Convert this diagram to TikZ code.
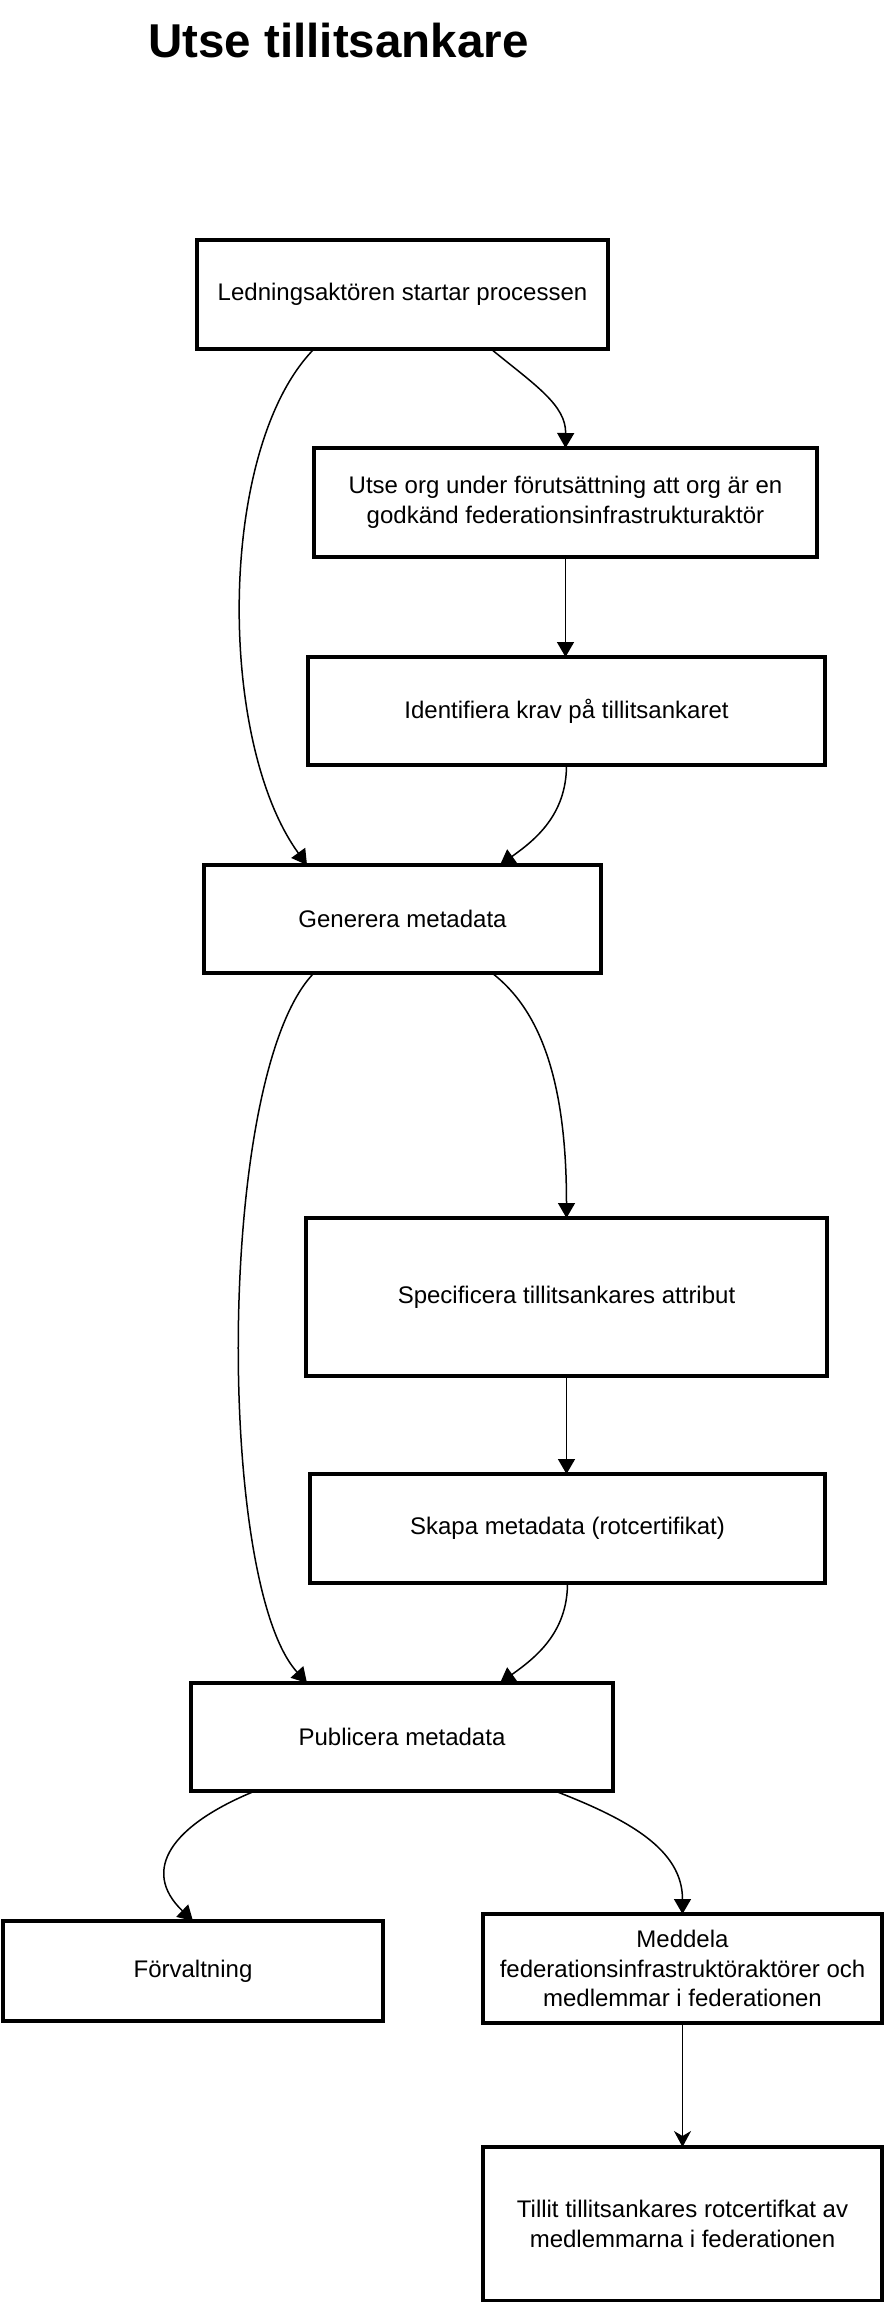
\documentclass[tikz,border=0pt]{standalone}
\usepackage{fontspec}
\setmainfont{Liberation Sans}
\usetikzlibrary{arrows.meta}
\begin{document}
\begin{tikzpicture}[x=1pt,y=-1pt,
  box/.style={draw=black,line width=3.5pt,rectangle,inner sep=0pt,outer sep=0pt,
    align=center,font=\fontsize{24}{29.5}\selectfont},
  conn/.style={draw=black,line width=1.5pt,-{Triangle[width=17pt,length=15pt]}},
  connc/.style={draw=black,line width=1.5pt,-{Stealth[width=17pt,length=16pt,inset=5pt]}}]
\useasboundingbox (0,0) rectangle (884,2302);
\node[anchor=base,font=\fontsize{47.5}{56}\bfseries\selectfont] (title) at (338.5,57.5) {Utse tillitsankare};
\node[box,minimum width=411pt,minimum height=109pt] (b1) at (402.5,294.5) {Ledningsaktören startar processen};
\node[box,minimum width=503pt,minimum height=109pt] (b2) at (565.5,502.5) {Utse org under förutsättning att org är en\\godkänd federationsinfrastrukturaktör};
\node[box,minimum width=517pt,minimum height=108pt] (b3) at (566.5,711) {Identifiera krav på tillitsankaret};
\node[box,minimum width=397pt,minimum height=108pt] (b4) at (402.5,919) {Generera metadata};
\node[box,minimum width=521pt,minimum height=158pt] (b5) at (566.5,1297) {Specificera tillitsankares attribut};
\node[box,minimum width=515pt,minimum height=109pt] (b6) at (567.5,1528.5) {Skapa metadata (rotcertifikat)};
\node[box,minimum width=422pt,minimum height=108pt] (b7) at (402,1737) {Publicera metadata};
\node[box,minimum width=380pt,minimum height=100pt] (b8) at (193,1971) {Förvaltning};
\node[box,minimum width=399pt,minimum height=109pt] (b9) at (682.5,1968.5) {Meddela\\federationsinfrastruktöraktörer och\\medlemmar i federationen};
\node[box,minimum width=399pt,minimum height=154pt] (b10) at (682.5,2224) {Tillit tillitsankares rotcertifkat av\\medlemmarna i federationen};
% connectors
\draw[conn] ([xshift=88.5pt]b1.south) .. controls (535,385) and (566,405) .. (b2.north);
\draw[conn] ([xshift=-88.5pt]b1.south) .. controls (217,448) and (217,741) .. ([xshift=-95.5pt]b4.north);
\draw[conn] (b2.south) -- (b2.south |- b3.north);
\draw[conn] (b3.south) .. controls (566.5,815) and (535,840) .. ([xshift=97.5pt]b4.north);
\draw[conn] ([xshift=-88.5pt]b4.south) .. controls (216,1073) and (216,1583) .. ([xshift=-95pt]b7.north);
\draw[conn] ([xshift=89.5pt]b4.south) .. controls (540,1010) and (566.5,1080) .. (b5.north);
\draw[conn] (b5.south) -- (b5.south |- b6.north);
\draw[conn] (b6.south) .. controls (567.5,1633) and (535,1658) .. ([xshift=98pt]b7.north);
\draw[conn] ([xshift=-147pt]b7.south) .. controls (172,1825) and (140,1870) .. (b8.north);
\draw[conn] ([xshift=153pt]b7.south) .. controls (630,1820) and (682.5,1850) .. (b9.north);
\draw[connc] (b9.south) -- (b10.north);
\end{tikzpicture}
\end{document}
